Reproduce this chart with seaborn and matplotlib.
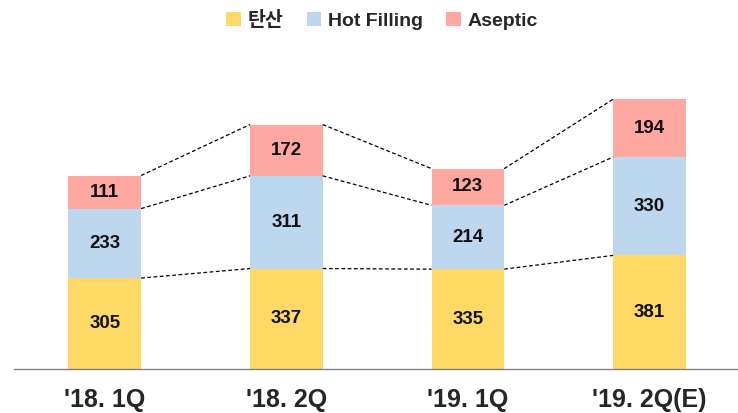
import matplotlib
matplotlib.use("Agg")
import numpy as np
import pandas as pd
import seaborn as sns
import matplotlib.pyplot as plt
from matplotlib.patches import Patch

# data
categories = ["'18. 1Q", "'18. 2Q", "'19. 1Q", "'19. 2Q(E)"]
carbonated = [305, 337, 335, 381]   # 탄산
hot_filling = [233, 311, 214, 330]
aseptic = [111, 172, 123, 194]
series_names = ["탄산", "Hot Filling", "Aseptic"]
colors = ["#FFD966", "#BDD7EE", "#FFA7A1"]

sns.set_style("white")
plt.rcParams["font.family"] = ["Liberation Sans", "Noto Sans CJK KR", "DejaVu Sans"]

df = pd.DataFrame({"cat": categories, "c1": carbonated, "c2": hot_filling, "c3": aseptic})
df["top1"] = df["c1"]
df["top2"] = df["c1"] + df["c2"]
df["top3"] = df["top2"] + df["c3"]

fig = plt.figure(figsize=(7.38, 4.13), dpi=100)
ax = fig.add_axes([0.019, 0.1065, 0.984, 0.797])

bar_w = 0.4
# stacked bars: draw cumulative totals from the top layer down
for col, color in zip(["top3", "top2", "top1"], colors[::-1]):
    sns.barplot(data=df, x="cat", y=col, color=color, width=bar_w,
                saturation=1, ax=ax, edgecolor="none")

# dashed connectors between bars
x = np.arange(len(categories))
for col in ["top1", "top2", "top3"]:
    vals = df[col].values
    for i in range(len(x) - 1):
        ax.plot([x[i] + bar_w / 2, x[i + 1] - bar_w / 2], [vals[i], vals[i + 1]],
                ls=(0, (3, 2)), color="black", lw=0.9)

# value labels
for i in range(len(x)):
    bottoms = [0, df["top1"][i], df["top2"][i]]
    for b, v in zip(bottoms, [carbonated[i], hot_filling[i], aseptic[i]]):
        ax.text(x[i], b + v / 2, str(v), ha="center", va="center",
                fontsize=13.5, fontweight="bold", color="#111111")

ax.set_xlim(-0.5, 3.5)
ax.set_ylim(0, 1104)
ax.set_xlabel("")
ax.set_ylabel("")
ax.set_yticks([])
for s in ["left", "right", "top"]:
    ax.spines[s].set_visible(False)
ax.spines["bottom"].set_color("#808080")
ax.spines["bottom"].set_linewidth(1)
ax.set_xticks(x)
ax.set_xticklabels(categories, fontsize=18, fontweight="bold")
ax.tick_params(axis="x", which="major", length=0, pad=14)
ax.set_xticks([-0.5, 0.5, 1.5, 2.5, 3.5], minor=True)
ax.tick_params(axis="x", which="minor", length=7, color="#808080", width=1)

handles = [Patch(facecolor=c, edgecolor="none") for c in colors]
fig.legend(handles, series_names, loc="center", bbox_to_anchor=(0.518, 0.95),
           ncol=3, frameon=False, handlelength=0.75, handleheight=0.75,
           handletextpad=0.35, columnspacing=1.2,
           prop={"weight": "bold", "size": 14})

fig.savefig("out.png", dpi=100)
